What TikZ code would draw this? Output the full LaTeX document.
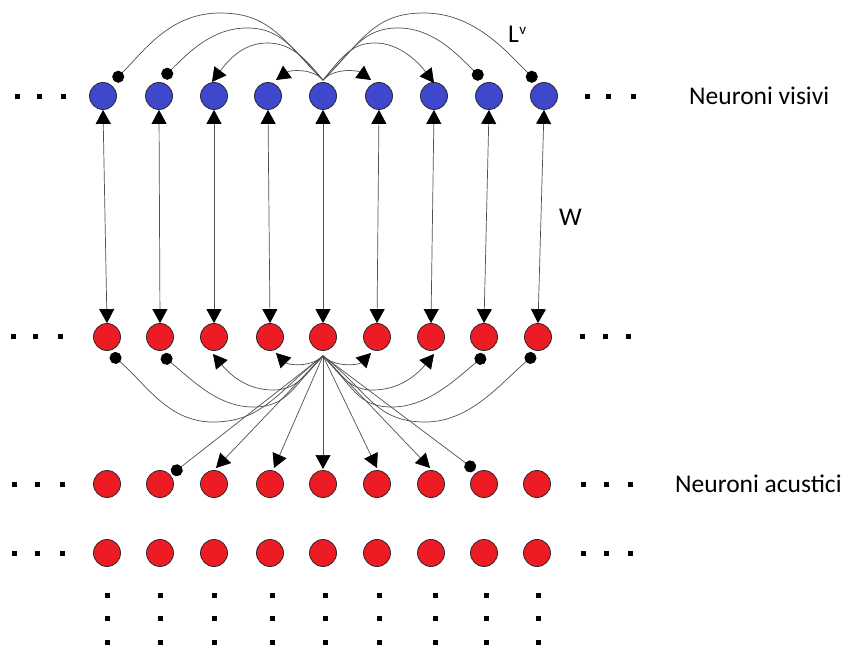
\documentclass[tikz,border=0pt]{standalone}
\usepackage{fontspec}
\setmainfont{Carlito}
\usetikzlibrary{arrows.meta}
\definecolor{visblue}{RGB}{63,72,204}
\definecolor{acured}{RGB}{237,28,36}
\definecolor{wirecol}{RGB}{80,80,80}
\definecolor{rimcol}{RGB}{40,40,40}
\newcommand\lblsize{\fontsize{25.5}{30}\selectfont}
\begin{document}
\begin{tikzpicture}[x=1pt,y=-1pt,
  neuron/.style={circle, draw=rimcol, line width=0.8pt, minimum size=27pt, inner sep=0pt},
  vis/.style={neuron, fill=visblue},
  acu/.style={neuron, fill=acured},
  wire/.style={draw=wirecol, line width=0.7pt},
  exc/.style={wire, -{Triangle[width=15pt,length=14pt,color=black]}},
  inh/.style={wire, -{Circle[length=12pt,color=black]}},
  twoway/.style={wire, {Triangle[width=15pt,length=14pt,color=black]}-{Triangle[width=15pt,length=14pt,color=black]}},
  ellip/.style={rectangle, fill=black, minimum size=5pt, inner sep=0pt},
  lbl/.style={anchor=base west, inner sep=0pt, font=\lblsize}
]
\fill[white] (0,0) rectangle (847,647);
\useasboundingbox (0,0) rectangle (847,647);

% layers of neurons
\foreach \x [count=\i from 0] in {103,159,214,268,323,379,434,489,544}
  \node[vis] (v\i) at (\x,96) {};
\foreach \x [count=\i from 0] in {107,160,214,270,323,377,431,484,538}
  \node[acu] (r\i) at (\x,337) {};
\foreach \x [count=\i from 0] in {107,160,214,270,323,377,431,484,537}
  \node[acu] (b\i) at (\x,484) {};
\foreach \x [count=\i from 0] in {107,160,214,270,323,377,431,484,537}
  \node[acu] (d\i) at (\x,553) {};

% ellipses beside each layer
\foreach \x [count=\i] in {17,39,63,587,608,633}
  \node[ellip] (ev\i) at (\x,97) {};
\foreach \x [count=\i] in {13,35,60,582,605,628}
  \node[ellip] (er\i) at (\x,337) {};
\foreach \x [count=\i] in {14,37,62,583,606,630}
  \node[ellip] (eb\i) at (\x,484) {};
\foreach \x [count=\i] in {14,37,62,583,606,630}
  \node[ellip] (ed\i) at (\x,553) {};
% vertical ellipses below the last layer
\foreach \x [count=\i] in {107,160,214,272,325,379,435,486,538}
  \foreach \y [count=\j] in {595,618,642}
    \node[ellip] (ec\i\j) at (\x,\y) {};

% labels
\node[lbl] (visivi) at (689,105) {Neuroni visivi};
\node[lbl] (acustici) at (675,492) {Neuroni acustici};
\node[lbl] (wlab) at (559,226) {W};
\node[lbl] (lvlab) at (508,43) {L\kern0.5pt\raisebox{8pt}{\fontsize{15}{15}\selectfont v}};

% reciprocal connections W between the two layers
\foreach \i in {0,...,8}
  \draw[twoway] (v\i.south) -- (r\i.north);

% lateral connections in the visual layer
\coordinate (st) at ([yshift=2pt]v4.north);
\coordinate (tv0) at (114,81);
\coordinate (tv1) at (163,78);
\coordinate (tv2) at (212,82);
\coordinate (tv3) at (276,80);
\coordinate (tv5) at (371,80);
\coordinate (tv6) at (434,83);
\coordinate (tv7) at (482,79);
\coordinate (tv8) at (536,81);
\draw[inh] (st) .. controls +(-40,-40) and +(50,0) .. (220,13)
               .. controls +(-50,0) and +(30,-30) .. (tv0);
\draw[inh] (st) .. controls +(-30,-30) and +(35,0) .. (247,28)
               .. controls +(-35,0) and +(25,-25) .. (tv1);
\draw[exc] (st) .. controls +(-20,-25) and +(22,0) .. (267,43)
               .. controls +(-25,0) and +(15,-20) .. (tv2);
\draw[exc] (st) .. controls +(-10,-12) and +(14,-10) .. (tv3);
\draw[exc] (st) .. controls +(10,-12) and +(-14,-10) .. (tv5);
\draw[exc] (st) .. controls +(20,-25) and +(-22,0) .. (375,43)
               .. controls +(25,0) and +(-15,-20) .. (tv6);
\draw[inh] (st) .. controls +(30,-30) and +(-35,0) .. (398,28)
               .. controls +(35,0) and +(-25,-25) .. (tv7);
\draw[inh] (st) .. controls +(40,-40) and +(-50,0) .. (424,13)
               .. controls +(50,0) and +(-30,-30) .. (tv8);

% lateral connections in the acoustic layer
\coordinate (sb) at ([yshift=-5pt]r4.south);
\coordinate (tr0) at (111,354);
\coordinate (tr1) at (162,355);
\coordinate (tr2) at (213,354);
\coordinate (tr3) at (276,353);
\coordinate (tr5) at (371,353);
\coordinate (tr6) at (434,354);
\coordinate (tr7) at (485,355);
\coordinate (tr8) at (535,354);
\draw[inh] (sb) .. controls +(-45,35) and +(50,0) .. (213,422)
               .. controls +(-45,0) and +(35,30) .. (tr0);
\draw[inh] (sb) .. controls +(-30,30) and +(35,0) .. (253,407)
               .. controls +(-35,0) and +(30,25) .. (tr1);
\draw[exc] (sb) .. controls +(-20,22) and +(22,0) .. (273,390)
               .. controls +(-25,0) and +(18,22) .. (tr2);
\draw[exc] (sb) .. controls +(-12,12) and +(12,12) .. (tr3);
\draw[exc] (sb) .. controls +(12,12) and +(-12,12) .. (tr5);
\draw[exc] (sb) .. controls +(20,22) and +(-22,0) .. (373,390)
               .. controls +(25,0) and +(-18,22) .. (tr6);
\draw[inh] (sb) .. controls +(30,30) and +(-35,0) .. (392,407)
               .. controls +(35,0) and +(-30,25) .. (tr7);
\draw[inh] (sb) .. controls +(45,35) and +(-50,0) .. (425,422)
               .. controls +(45,0) and +(-35,30) .. (tr8);

% projections to the next acoustic layer
\coordinate (tb1) at (172,474);
\coordinate (tb2) at (216,468);
\coordinate (tb3) at (274,468);
\coordinate (tb4) at (323,469);
\coordinate (tb5) at (377,468);
\coordinate (tb6) at (430,468);
\coordinate (tb7) at (475,470);
\draw[inh] (sb) -- (tb1);
\draw[exc] (sb) -- (tb2);
\draw[exc] (sb) -- (tb3);
\draw[exc] (sb) -- (tb4);
\draw[exc] (sb) -- (tb5);
\draw[exc] (sb) -- (tb6);
\draw[inh] (sb) -- (tb7);
\end{tikzpicture}
\end{document}
